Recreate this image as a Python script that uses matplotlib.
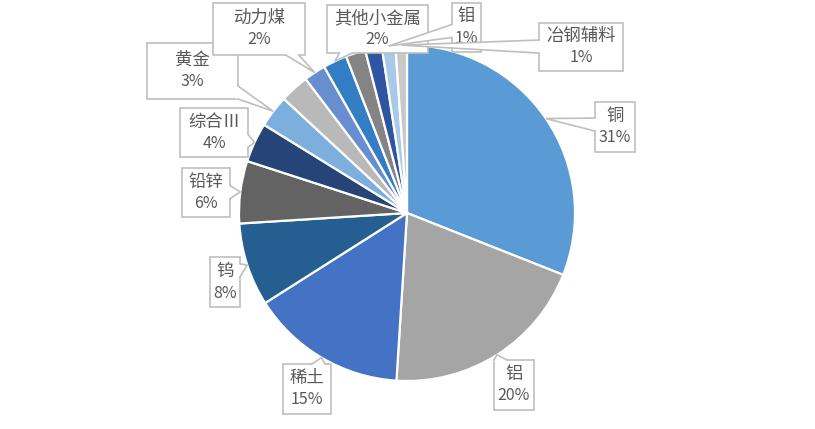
import numpy as np
import matplotlib
matplotlib.use("Agg")
import matplotlib.pyplot as plt
from matplotlib.patches import Rectangle, Polygon

plt.rcParams['font.family'] = ['Noto Sans CJK SC', 'DejaVu Sans']

# data (clockwise from 12 o'clock)
categories = ['铜', '铝', '稀土', '钨', '铅锌', '综合Ⅲ', '黄金', '', '动力煤', '其他小金属', '', '', '钼', '冶钢辅料']
values = [31, 20, 15, 8, 6, 3.8, 3.1, 2.8, 2.1, 2.3, 1.9, 1.6, 1.3, 1.1]
colors = ['#5b9bd5', '#a5a5a5', '#4472c4', '#255e91', '#636363', '#264478', '#7cafdd',
          '#b9b9b9', '#698ed0', '#327dc3', '#848484', '#2f55a0', '#a9c9ea', '#c8c8c8']
# label boxes (pixels from top-left: x0, y0, x1, y1)
label_box = {'铜': (595, 102, 635, 152), '铝': (494, 360, 534, 410), '稀土': (283, 364, 331, 414),
             '钨': (210, 257, 240, 307), '铅锌': (182, 168, 230, 217), '综合Ⅲ': (180, 108, 248, 157),
             '黄金': (147, 43, 238, 99), '动力煤': (213, 3, 305, 55), '其他小金属': (327, 5, 428, 53),
             '钼': (452, 3, 481, 52), '冶钢辅料': (539, 23, 623, 71)}

W, H = 815, 429
fig = plt.figure(figsize=(W / 100, H / 100), dpi=100)
ax = fig.add_axes([0, 0, 1, 1])
cx, cy, R = 407, H - 213, 168
wedges, _ = ax.pie(values, colors=colors, startangle=90, counterclock=False,
                   center=(cx, cy), radius=R,
                   wedgeprops=dict(edgecolor='white', linewidth=1.6))
ax.set_xlim(0, W)
ax.set_ylim(0, H)
ax.set_aspect('equal')
ax.axis('off')

EC = '#bfbfbf'
TC = '#595959'
BW = 13  # pointer base width (px)
z = 3
for w, name, v in zip(wedges, categories, values):
    if not name:
        continue
    mid = np.deg2rad((w.theta1 + w.theta2) / 2)
    P = np.array([cx + R * np.cos(mid), cy + R * np.sin(mid)])
    bx0, by0t, bx1, by1t = label_box[name]
    x0, x1 = bx0, bx1
    y0, y1 = H - by1t, H - by0t
    C = np.array([(x0 + x1) / 2, (y0 + y1) / 2])
    d = P - C
    hw, hh = (x1 - x0) / 2, (y1 - y0) / 2
    tx = hw / abs(d[0]) if d[0] != 0 else np.inf
    ty = hh / abs(d[1]) if d[1] != 0 else np.inf
    E = C + min(tx, ty) * d
    if tx < ty:
        a = np.clip(E[1] - BW / 2, y0, y1 - BW); b1 = np.array([E[0], a]); b2 = np.array([E[0], a + BW])
        inward = np.array([-np.sign(d[0]) * 2, 0])
    else:
        a = np.clip(E[0] - BW / 2, x0, x1 - BW); b1 = np.array([a, E[1]]); b2 = np.array([a + BW, E[1]])
        inward = np.array([0, -np.sign(d[1]) * 2])
    ax.add_patch(Rectangle((x0, y0), x1 - x0, y1 - y0, fc='white', ec=EC, lw=1.2, zorder=z))
    ax.add_patch(Polygon([b1 + inward, b1, P, b2, b2 + inward], closed=True, fc='white', ec='none', zorder=z + 1))
    ax.plot([b1[0], P[0], b2[0]], [b1[1], P[1], b2[1]], color=EC, lw=1.2, zorder=z + 2,
            solid_joinstyle='miter')
    ax.text(C[0], C[1] + 11, name, ha='center', va='center', fontsize=12.5, color=TC, zorder=z + 3)
    ax.text(C[0], C[1] - 11, f'{round(v)}%', ha='center', va='center', fontsize=11.5, color=TC, zorder=z + 3)
    z += 4

fig.savefig('out.png', dpi=100)
